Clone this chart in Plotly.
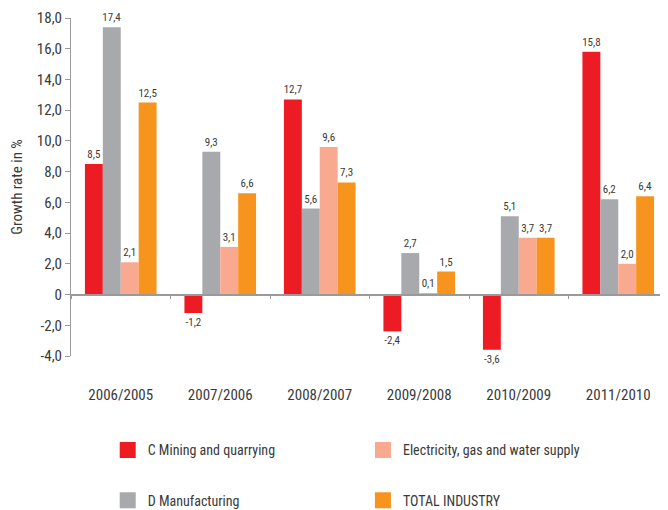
import plotly.graph_objects as go

categories = ["2006/2005", "2007/2006", "2008/2007", "2009/2008", "2010/2009", "2011/2010"]
mining = [8.5, -1.2, 12.7, -2.4, -3.6, 15.8]
manufacturing = [17.4, 9.3, 5.6, 2.7, 5.1, 6.2]
electricity = [2.1, 3.1, 9.6, 0.1, 3.7, 2.0]
total = [12.5, 6.6, 7.3, 1.5, 3.7, 6.4]

series_names = ["C Mining and quarrying", "D Manufacturing",
                "Electricity, gas and water supply", "TOTAL INDUSTRY"]
series_values = [mining, manufacturing, electricity, total]
colors = ["#ED1C24", "#A7A9AC", "#F8A98F", "#F7941D"]
legend_ids = ["legend", "legend", "legend2", "legend2"]

y_tickvals = [18, 16, 14, 12, 10, 8, 6, 4, 2, 0, -2, -4]
y_ticktext = ["18,0", "16,0", "14,0", "12,0", "10,0", "8,0", "6,0", "4,0", "2,0", "0", "-2,0", "-4,0"]

FONT = "Liberation Sans Narrow, Roboto Condensed, DejaVu Sans Condensed, Arial Narrow, sans-serif"
TXT = "#3a3a3a"

fig = go.Figure()
for name, vals, col in zip(series_names, series_values, colors):
    fig.add_trace(go.Bar(
        x=categories, y=vals, name=name, marker=dict(color=col, line=dict(width=0)),
        texttemplate="%{y:.1f}", textposition="outside", cliponaxis=False,
        constraintext="none", textfont=dict(family=FONT, size=11, color=TXT),
        showlegend=False,
    ))

# legend entries
for name, col, lg in zip(series_names, colors, legend_ids):
    fig.add_trace(go.Scatter(
        x=[None], y=[None], mode="markers", name=name,
        marker=dict(symbol="square", size=16, color=col),
        legend=lg, legendgroup=name, showlegend=True,
    ))

# axis line at zero with boundary ticks
fig.add_trace(go.Scatter(x=categories, y=[None]*6, xaxis="x2", yaxis="y",
                         showlegend=False, hoverinfo="skip", mode="markers"))

fig.update_layout(
    width=660, height=502,
    margin=dict(l=63, r=0, t=10, b=154, autoexpand=False),
    paper_bgcolor="white", plot_bgcolor="white",
    separators=",.",
    barmode="group", bargap=0.28, bargroupgap=0,
    font=dict(family=FONT, color=TXT, size=14),
    xaxis=dict(type="category", categoryorder="array", categoryarray=categories,
               range=[-0.5, 5.5], showline=False, ticks="", showgrid=False,
               zeroline=False, ticklabelstandoff=28, automargin=False,
               tickfont=dict(family=FONT, size=15, color=TXT)),
    xaxis2=dict(type="category", categoryorder="array", categoryarray=categories,
                range=[-0.5, 5.5], overlaying="x", anchor="free",
                position=4/22, showline=True, linecolor="#9a9a9a", linewidth=1.5,
                ticks="outside", tickson="boundaries", ticklen=4, tickcolor="#9a9a9a",
                showticklabels=False, showgrid=False, zeroline=False, automargin=False),
    yaxis=dict(range=[-4, 18], tickvals=y_tickvals, ticktext=y_ticktext,
               showline=True, linecolor="#9a9a9a", linewidth=1, automargin=False,
               ticks="outside", ticklen=5, tickcolor="#9a9a9a",
               showgrid=False, zeroline=False,
               tickfont=dict(family=FONT, size=15, color=TXT),
               title=dict(text="Growth rate in %", font=dict(family=FONT, size=15, color=TXT),
                          standoff=18)),
    legend=dict(x=0.0615, y=-0.232, xanchor="left", yanchor="top", orientation="v",
                tracegroupgap=29, font=dict(family=FONT, size=14, color=TXT),
                bgcolor="rgba(0,0,0,0)"),
    legend2=dict(x=0.489, y=-0.232, xanchor="left", yanchor="top", orientation="v",
                 tracegroupgap=29, font=dict(family=FONT, size=14, color=TXT),
                 bgcolor="rgba(0,0,0,0)"),
)

fig.write_html("out.html")
